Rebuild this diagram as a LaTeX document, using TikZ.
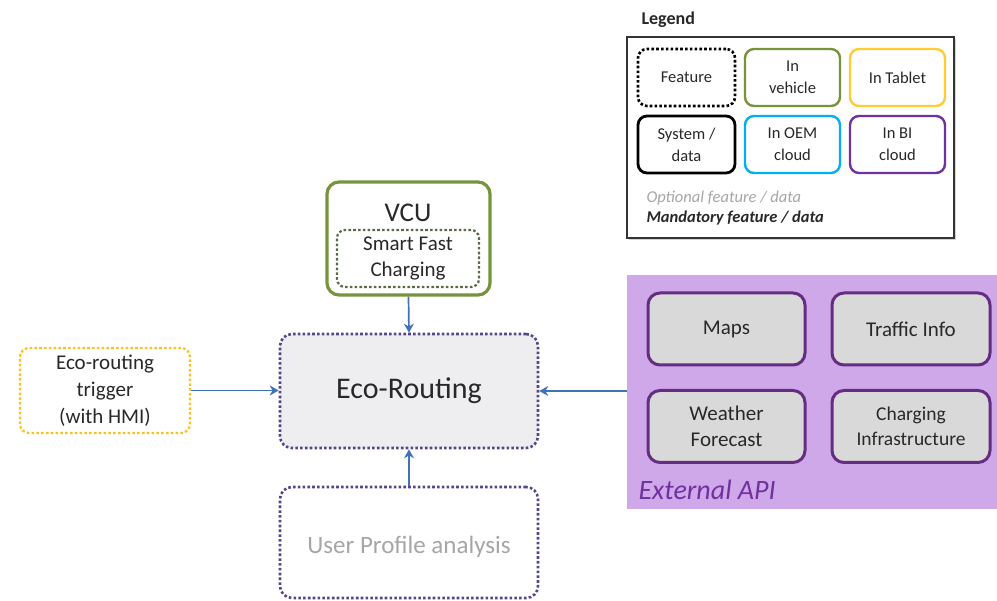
\documentclass[tikz,border=0pt]{standalone}
\usepackage{fontspec}
\setmainfont{Carlito}
\usetikzlibrary{arrows.meta,shadows}

\definecolor{vcugreen}{RGB}{119,147,60}
\definecolor{tabletyellow}{RGB}{255,204,51}
\definecolor{triggeryellow}{RGB}{255,192,30}
\definecolor{oemblue}{RGB}{0,176,240}
\definecolor{bipurple}{RGB}{112,48,160}
\definecolor{apiviolet}{RGB}{207,168,233}
\definecolor{apiborder}{RGB}{100,45,130}
\definecolor{boxgray}{RGB}{217,217,217}
\definecolor{ecogray}{RGB}{238,238,240}
\definecolor{dotpurple}{RGB}{85,70,140}
\definecolor{sfcdot}{RGB}{90,105,70}
\definecolor{arrowblue}{RGB}{65,115,180}
\definecolor{optgray}{RGB}{166,166,166}
\definecolor{textdark}{RGB}{40,40,40}

\tikzset{
  sqdot/.style={line width=2.6pt, dash pattern=on 2.6pt off 2.2pt},
  rbox/.style={rounded corners=12pt, align=center, inner sep=0pt, text=textdark},
  legbox/.style={rbox, rounded corners=9pt, line width=2.4pt, minimum height=57pt,
                 font=\fontsize{16.5}{22}\selectfont},
  apibox/.style={rbox, draw=apiborder, fill=boxgray, line width=3pt,
                 minimum width=157pt, minimum height=72pt,
                 font=\fontsize{21}{26}\selectfont},
  link/.style={draw=arrowblue, line width=1.7pt, -{Stealth[length=9pt,width=10pt]}}
}

\begin{document}
\begin{tikzpicture}[x=1pt,y=-1pt]
\useasboundingbox (0,0) rectangle (997,601);

% ---------- legend ----------
\node[anchor=west, font=\fontsize{18}{22}\selectfont\bfseries, text=textdark] (legtitle) at (638,20) {Legend};
\node[draw=black!80, fill=white, line width=1.3pt, minimum width=327pt, minimum height=201pt,
      inner sep=0pt, drop shadow={shadow xshift=2pt, shadow yshift=-2pt, opacity=0.35}] (legend) at (790.5,137.5) {};
\node[legbox, draw=black, sqdot, minimum width=97pt] (lfeature) at (686.5,77.5) {Feature};
\node[legbox, draw=vcugreen, minimum width=95pt] (lvehicle) at (792.5,77.5) {In\\vehicle};
\node[legbox, draw=tabletyellow, minimum width=95pt] (ltablet) at (897.5,77.5) {In Tablet};
\node[legbox, draw=black, line width=2.8pt, minimum width=97pt] (lsystem) at (686.5,144.5) {System /\\data};
\node[legbox, draw=oemblue, minimum width=95pt] (loem) at (792.5,144.5) {In OEM\\cloud};
\node[legbox, draw=bipurple, minimum width=95pt] (lbi) at (897.5,144.5) {In BI\\cloud};
\node[anchor=west, font=\fontsize{16.5}{20}\selectfont\itshape, text=optgray] (lopt) at (643,198) {Optional feature / data};
\node[anchor=west, font=\fontsize{16.5}{20}\selectfont\bfseries\itshape, text=textdark] (lmand) at (643,218) {Mandatory feature / data};

% ---------- VCU ----------
\node[rbox, draw=vcugreen, line width=3.2pt, minimum width=163pt, minimum height=113pt] (vcu) at (408.5,238.5) {};
\node[font=\fontsize{27}{32}\selectfont, text=textdark] (vcutitle) at (408,213) {VCU};
\node[rbox, rounded corners=8pt, draw=sfcdot, sqdot, line width=2.2pt,
      minimum width=142pt, minimum height=57pt, font=\fontsize{21}{26}\selectfont] (sfc) at (408,258.5) {Smart Fast\\Charging};

% ---------- central feature ----------
\node[rbox, draw=dotpurple, fill=ecogray, sqdot, minimum width=258pt, minimum height=114pt,
      font=\fontsize{30}{36}\selectfont] (eco) at (409,391) {Eco-Routing};

% ---------- trigger ----------
\node[rbox, rounded corners=9pt, draw=triggeryellow, sqdot, line width=2.2pt, minimum width=170pt, minimum height=85pt,
      font=\fontsize{21}{27}\selectfont] (trigger) at (105,390.5) {Eco-routing\\trigger\\(with HMI)};

% ---------- optional user profile ----------
\node[rbox, draw=dotpurple, sqdot, minimum width=258pt, minimum height=111pt] (user) at (409,542.5) {};
\node[font=\fontsize{25}{30}\selectfont, text=optgray] (usertxt) at (409,547) {User Profile analysis};

% ---------- external API ----------
\node[fill=apiviolet, minimum width=370pt, minimum height=234pt, inner sep=0pt] (api) at (812,392) {};
\node[apibox] (maps) at (726.5,329) {Maps};
\node[apibox, minimum width=158pt] (traffic) at (911,329) {Traffic Info};
\node[apibox] (weather) at (726.5,426.5) {Weather\\Forecast};
\node[apibox, minimum width=158pt, font=\fontsize{19.5}{25}\selectfont] (charging) at (911,426.5) {Charging\\Infrastructure};
\node[anchor=west, font=\fontsize{28}{32}\selectfont\itshape, text=bipurple] (apititle) at (635,490) {External API};

% ---------- connectors ----------
\draw[link] (vcu.south) -- (eco.north);
\draw[link] (trigger.east) -- (trigger.east -| eco.west);
\draw[link] (api.west |- eco.east) -- (eco.east);
\draw[link] (user.north) -- (eco.south);
\end{tikzpicture}
\end{document}
